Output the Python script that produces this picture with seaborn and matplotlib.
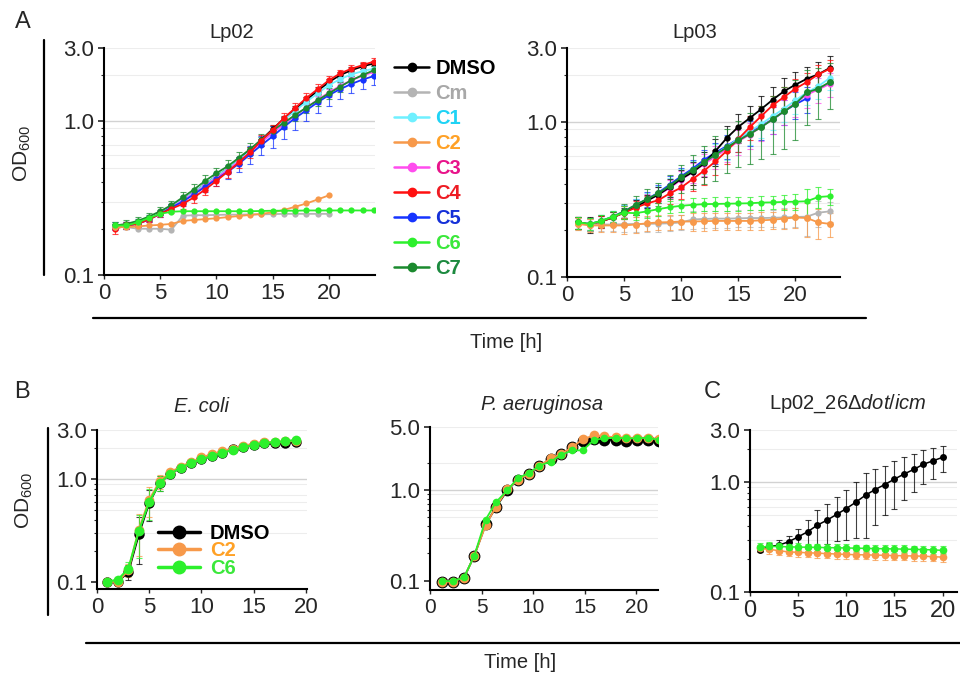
import matplotlib
matplotlib.use("Agg")
import matplotlib.pyplot as plt
import seaborn as sns
from matplotlib.lines import Line2D
from matplotlib.ticker import FixedLocator, NullFormatter

# ---- data: Lp02 (hours 1..24) ----
lp02_t = list(range(1, 25))
lp02_t20 = list(range(1, 21))
lp02_dmso = [0.21, 0.21, 0.22, 0.235, 0.255, 0.28, 0.31, 0.345, 0.39, 0.44, 0.49, 0.56,
             0.65, 0.76, 0.89, 1.04, 1.2, 1.38, 1.58, 1.8, 2.0, 2.15, 2.28, 2.38]
lp02_cm = [0.205, 0.205, 0.2, 0.2, 0.2, 0.197, 0.243, 0.245, 0.245, 0.246, 0.247, 0.247,
           0.248, 0.248, 0.249, 0.25, 0.25, 0.25, 0.25, 0.25]
lp02_c1 = [0.21, 0.21, 0.22, 0.235, 0.255, 0.28, 0.31, 0.345, 0.39, 0.44, 0.49, 0.56,
           0.64, 0.75, 0.87, 1.02, 1.17, 1.34, 1.52, 1.72, 1.88, 2.02, 2.12, 2.2]
lp02_c2 = [0.205, 0.205, 0.207, 0.21, 0.212, 0.215, 0.225, 0.228, 0.231, 0.234, 0.238, 0.242,
           0.246, 0.25, 0.256, 0.265, 0.278, 0.292, 0.31, 0.33]
lp02_c3 = [0.205, 0.21, 0.215, 0.23, 0.25, 0.275, 0.305, 0.34, 0.38, 0.43, 0.48, 0.55,
           0.63, 0.73, 0.84, 0.96, 1.09, 1.23, 1.38, 1.54, 1.7, 1.85, 1.98, 2.1]
lp02_c4 = [0.2, 0.21, 0.215, 0.23, 0.25, 0.27, 0.29, 0.32, 0.36, 0.41, 0.47, 0.54,
           0.63, 0.75, 0.88, 1.05, 1.22, 1.42, 1.62, 1.85, 2.05, 2.2, 2.32, 2.45]
lp02_c5 = [0.205, 0.21, 0.215, 0.23, 0.25, 0.275, 0.3, 0.335, 0.375, 0.42, 0.47, 0.53,
           0.61, 0.7, 0.8, 0.92, 1.05, 1.18, 1.33, 1.48, 1.62, 1.75, 1.87, 1.97]
lp02_c6 = [0.21, 0.21, 0.22, 0.235, 0.25, 0.258, 0.26, 0.26, 0.26, 0.26, 0.26, 0.26,
           0.26, 0.261, 0.262, 0.262, 0.262, 0.263, 0.263, 0.263, 0.263, 0.263, 0.263, 0.263]
lp02_c7 = [0.21, 0.215, 0.225, 0.24, 0.26, 0.285, 0.32, 0.36, 0.41, 0.46, 0.51, 0.58,
           0.66, 0.76, 0.87, 0.98, 1.1, 1.23, 1.37, 1.52, 1.68, 1.85, 2.0, 2.15]
lp02_small_sd = [0.01, 0.01, 0.01, 0.01, 0.01, 0.01, 0.015, 0.015, 0.02, 0.02, 0.025, 0.03,
                 0.03, 0.035, 0.04, 0.05, 0.06, 0.07, 0.08, 0.09, 0.1, 0.1, 0.1, 0.1]
lp02_c4_sd = [0.015, 0.01, 0.01, 0.01, 0.01, 0.015, 0.02, 0.025, 0.03, 0.03, 0.04, 0.04,
              0.05, 0.06, 0.07, 0.08, 0.1, 0.11, 0.12, 0.12, 0.12, 0.12, 0.12, 0.12]
lp02_c5_sd = [0.01, 0.01, 0.01, 0.01, 0.01, 0.015, 0.02, 0.02, 0.03, 0.04, 0.05, 0.06,
              0.08, 0.1, 0.13, 0.15, 0.17, 0.18, 0.2, 0.22, 0.22, 0.23, 0.24, 0.25]
lp02_c7_sd = [0.012, 0.012, 0.012, 0.015, 0.015, 0.02, 0.025, 0.03, 0.035, 0.04, 0.05, 0.05,
              0.06, 0.07, 0.08, 0.09, 0.1, 0.1, 0.12, 0.12, 0.13, 0.13, 0.14, 0.14]

# ---- data: Lp03 (hours 1..23) ----
lp03_t = list(range(1, 24))
lp03_t21 = list(range(1, 22))
lp03_dmso = [0.225, 0.218, 0.228, 0.242, 0.26, 0.283, 0.31, 0.34, 0.38, 0.43, 0.475, 0.54,
             0.65, 0.79, 0.93, 1.06, 1.21, 1.39, 1.58, 1.74, 1.9, 2.03, 2.23]
lp03_cm = [0.22, 0.218, 0.218, 0.218, 0.219, 0.22, 0.22, 0.221, 0.222, 0.225, 0.235, 0.237,
           0.238, 0.238, 0.239, 0.24, 0.24, 0.241, 0.242, 0.244, 0.245, 0.26, 0.265]
lp03_c1 = [0.225, 0.22, 0.23, 0.245, 0.265, 0.29, 0.315, 0.345, 0.385, 0.435, 0.49, 0.55,
           0.62, 0.69, 0.78, 0.87, 0.97, 1.09, 1.22, 1.38, 1.55, 1.7, 1.92]
lp03_c2 = [0.22, 0.215, 0.215, 0.215, 0.215, 0.218, 0.222, 0.225, 0.226, 0.228, 0.228, 0.229,
           0.23, 0.23, 0.23, 0.23, 0.232, 0.234, 0.238, 0.242, 0.24, 0.225, 0.22]
lp03_c3 = [0.225, 0.22, 0.228, 0.243, 0.262, 0.285, 0.31, 0.34, 0.375, 0.425, 0.475, 0.535,
           0.6, 0.67, 0.75, 0.83, 0.93, 1.04, 1.17, 1.33, 1.5, 1.62, 1.76]
lp03_c4 = [0.225, 0.218, 0.228, 0.242, 0.26, 0.28, 0.298, 0.313, 0.346, 0.378, 0.428, 0.485,
           0.557, 0.653, 0.777, 0.925, 1.09, 1.28, 1.45, 1.64, 1.81, 2.03, 2.2]
lp03_c5 = [0.225, 0.22, 0.23, 0.245, 0.265, 0.29, 0.318, 0.35, 0.395, 0.447, 0.5, 0.57,
           0.635, 0.7, 0.78, 0.86, 0.94, 1.04, 1.17, 1.3, 1.42]
lp03_c6 = [0.225, 0.22, 0.23, 0.245, 0.26, 0.258, 0.265, 0.274, 0.282, 0.288, 0.292, 0.295,
           0.296, 0.297, 0.298, 0.299, 0.302, 0.303, 0.305, 0.306, 0.308, 0.328, 0.332]
lp03_c7 = [0.225, 0.219, 0.23, 0.244, 0.265, 0.292, 0.318, 0.346, 0.388, 0.44, 0.49, 0.55,
           0.615, 0.687, 0.76, 0.837, 0.925, 1.04, 1.17, 1.31, 1.55, 1.64, 1.81]
lp03_dmso_sd = [0.02, 0.025, 0.02, 0.02, 0.02, 0.03, 0.03, 0.04, 0.05, 0.06, 0.08, 0.1,
                0.13, 0.15, 0.2, 0.2, 0.25, 0.3, 0.35, 0.35, 0.35, 0.4, 0.45]
lp03_mid_sd = [0.02, 0.02, 0.02, 0.02, 0.025, 0.03, 0.035, 0.04, 0.05, 0.06, 0.07, 0.09,
               0.1, 0.12, 0.14, 0.16, 0.18, 0.2, 0.22, 0.25, 0.27, 0.3, 0.32]
lp03_c7_sd = [0.02, 0.02, 0.02, 0.02, 0.03, 0.04, 0.05, 0.06, 0.07, 0.09, 0.12, 0.15,
              0.2, 0.22, 0.25, 0.3, 0.35, 0.42, 0.5, 0.55, 0.6, 0.6, 0.6]
lp03_flat_sd = [0.02, 0.02, 0.02, 0.02, 0.025, 0.025, 0.025, 0.025, 0.025, 0.025, 0.03, 0.03,
                0.03, 0.03, 0.03, 0.03, 0.03, 0.03, 0.035, 0.035, 0.06, 0.05, 0.04]

# ---- data: E. coli (hours 1..19) ----
ecoli_t = list(range(1, 20))
ecoli_dmso = [0.1, 0.1, 0.125, 0.29, 0.59, 0.92, 1.12, 1.29, 1.43, 1.57, 1.67, 1.8,
              1.94, 2.04, 2.15, 2.22, 2.22, 2.26, 2.28]
ecoli_c2 = [0.1, 0.1, 0.13, 0.32, 0.63, 0.95, 1.16, 1.32, 1.46, 1.62, 1.74, 1.86,
            1.98, 2.1, 2.2, 2.28, 2.3, 2.32, 2.37]
ecoli_c6 = [0.1, 0.105, 0.134, 0.31, 0.6, 0.92, 1.12, 1.29, 1.43, 1.56, 1.67, 1.8,
            1.92, 2.03, 2.15, 2.25, 2.28, 2.33, 2.4]
ecoli_sd = [0.003, 0.005, 0.02, 0.14, 0.2, 0.15, 0.05, 0.04, 0.04, 0.04, 0.05, 0.05,
            0.05, 0.05, 0.05, 0.05, 0.05, 0.05, 0.05]

# ---- data: P. aeruginosa ----
pa_t = [1.2, 2.2, 3.3, 4.3, 5.4, 6.4, 7.5, 8.5, 9.6, 10.6, 11.7, 12.7, 13.8, 14.8,
        15.9, 16.9, 18.0, 19.0, 20.1, 21.1, 22.2]
pa_dmso = [0.097, 0.098, 0.108, 0.19, 0.42, 0.65, 1.0, 1.31, 1.53, 1.86, 2.2, 2.5, 2.99,
           3.5, 3.7, 3.6, 3.6, 3.5, 3.55, 3.55, 3.5]
pa_c2 = [0.097, 0.098, 0.108, 0.19, 0.41, 0.66, 1.02, 1.3, 1.53, 1.86, 2.25, 2.52, 3.0,
         3.65, 4.06, 3.95, 3.85, 3.8, 3.8, 3.8, 3.7]
pa_c6 = [0.099, 0.099, 0.109, 0.19, 0.475, 0.74, 1.0, 1.36, 1.55, 1.87, 2.07, 2.45, 2.76,
         2.76, 3.6, 3.75, 3.8, 3.75, 3.75, 3.8, 3.6]

# ---- data: Lp02_26 dot/icm (hours 1..20) ----
dot_t = list(range(1, 21))
dot_dmso = [0.24, 0.26, 0.267, 0.287, 0.318, 0.355, 0.407, 0.452, 0.51, 0.576, 0.66, 0.764,
            0.86, 0.955, 1.07, 1.19, 1.31, 1.46, 1.57, 1.69]
dot_dmso_sd = [0.01, 0.02, 0.03, 0.04, 0.06, 0.1, 0.15, 0.18, 0.22, 0.28, 0.35, 0.45,
               0.45, 0.45, 0.5, 0.5, 0.5, 0.5, 0.5, 0.45]
dot_c2 = [0.25, 0.245, 0.238, 0.232, 0.23, 0.228, 0.226, 0.224, 0.222, 0.22, 0.219, 0.218,
          0.217, 0.216, 0.215, 0.214, 0.213, 0.212, 0.21, 0.208]
dot_c6 = [0.257, 0.26, 0.26, 0.258, 0.257, 0.256, 0.255, 0.254, 0.253, 0.252, 0.251, 0.25,
          0.249, 0.248, 0.247, 0.246, 0.245, 0.244, 0.242, 0.24]
dot_sd = [0.02, 0.025, 0.02, 0.02, 0.02, 0.02, 0.02, 0.02, 0.02, 0.02, 0.02, 0.02,
          0.02, 0.02, 0.02, 0.02, 0.02, 0.02, 0.02, 0.02]

legend_labels = ["DMSO", "Cm", "C1", "C2", "C3", "C4", "C5", "C6", "C7"]

col = {"DMSO": "#000000", "Cm": "#b4b4b4", "C1": "#6ff0ff", "C2": "#f7994a", "C3": "#ff4dee",
       "C4": "#ff1010", "C5": "#1634ff", "C6": "#2cf02c", "C7": "#1b8a2e"}
txt_col = {"DMSO": "#000000", "Cm": "#a8a8a8", "C1": "#1fd3f5", "C2": "#ffa126", "C3": "#e8138a",
           "C4": "#ee1c24", "C5": "#1530d8", "C6": "#3be83b", "C7": "#1c8a3f"}

sns.set_style("ticks")
plt.rcParams['font.family'] = ['Liberation Sans', 'DejaVu Sans']
plt.rcParams['mathtext.fontset'] = 'custom'
plt.rcParams['mathtext.rm'] = 'Liberation Sans'
plt.rcParams['mathtext.it'] = 'Liberation Sans:italic'
plt.rcParams['mathtext.default'] = 'regular'

W, H = 960, 676
fig = plt.figure(figsize=(9.6, 6.76), dpi=100)


def px_axes(left, top, right, bottom):
    return fig.add_axes([left / W, 1 - bottom / H, (right - left) / W, (bottom - top) / H])


def ftext(x, y, s, **kw):
    fig.text(x / W, 1 - y / H, s, ha='center', va='center', **kw)


def series(ax, t, y, c, sd=None, ms=4.5, lw=1.3, z=3):
    if sd is not None:
        ax.errorbar(t, y, yerr=sd, fmt='none', ecolor=c, elinewidth=0.8, capsize=2,
                    capthick=0.8, alpha=0.75, zorder=z - 0.5)
    sns.lineplot(x=t, y=y, ax=ax, color=c, marker='o', markersize=ms, markeredgewidth=0,
                 linewidth=lw, legend=False, zorder=z)


def style(ax, ylim, xlim, top_tick, xsize=16, ysize=16):
    ax.set_yscale('log')
    ax.set_ylim(ylim)
    ax.set_xlim(xlim)
    majors = [0.1, 1.0, top_tick]
    ax.yaxis.set_major_locator(FixedLocator(majors))
    ax.set_yticklabels([f"{v:.1f}" for v in majors])
    ax.yaxis.set_minor_locator(FixedLocator([0.2, 0.3, 0.4, 0.5, 0.6, 0.7, 0.8, 0.9, 2.0]))
    ax.yaxis.set_minor_formatter(NullFormatter())
    ax.set_xticks([0, 5, 10, 15, 20])
    ax.tick_params(axis='x', length=3, width=1.0, labelsize=xsize, pad=3)
    ax.tick_params(axis='y', which='major', length=4, width=1.2, labelsize=ysize, pad=3)
    ax.tick_params(axis='y', which='minor', length=2.5, width=0.8)
    for g in [0.3, 0.5, 0.6, 0.7, 0.9, 2.0, top_tick]:
        ax.axhline(g, color='#ededed', lw=0.8, zorder=0)
    ax.axhline(1.0, color='#d2d2d2', lw=1.0, zorder=0)
    sns.despine(ax=ax)
    for s in ['left', 'bottom']:
        ax.spines[s].set_linewidth(1.5)
        ax.spines[s].set_color('black')
    ax.set_xlabel('')
    ax.set_ylabel('')


# ---- A: Lp02 ----
ax1 = px_axes(104, 48, 375, 275)
series(ax1, lp02_t, lp02_dmso, col["DMSO"], lp02_small_sd)
series(ax1, lp02_t, lp02_c1, col["C1"], lp02_small_sd)
series(ax1, lp02_t, lp02_c3, col["C3"], lp02_small_sd)
series(ax1, lp02_t, lp02_c5, col["C5"], lp02_c5_sd)
series(ax1, lp02_t, lp02_c7, col["C7"], lp02_c7_sd)
series(ax1, lp02_t, lp02_c4, col["C4"], lp02_c4_sd)
series(ax1, lp02_t20, lp02_cm, col["Cm"])
series(ax1, lp02_t20, lp02_c2, col["C2"])
series(ax1, lp02_t, lp02_c6, col["C6"])
style(ax1, (0.1, 3.0), (0, 24.1), 3.0)
ftext(232, 32, "Lp02", fontsize=14.5)

# ---- A: Lp03 ----
ax2 = px_axes(567, 48, 840, 277)
series(ax2, lp03_t21, lp03_c5, col["C5"], lp03_mid_sd[:21])
series(ax2, lp03_t, lp03_c3, col["C3"], lp03_mid_sd)
series(ax2, lp03_t, lp03_c1, col["C1"], lp03_mid_sd)
series(ax2, lp03_t, lp03_dmso, col["DMSO"], lp03_dmso_sd)
series(ax2, lp03_t, lp03_c4, col["C4"], lp03_mid_sd)
series(ax2, lp03_t, lp03_c7, col["C7"], lp03_c7_sd, ms=5)
series(ax2, lp03_t, lp03_cm, col["Cm"], lp03_flat_sd)
series(ax2, lp03_t, lp03_c2, col["C2"], lp03_flat_sd, ms=5)
series(ax2, lp03_t, lp03_c6, col["C6"], lp03_flat_sd)
style(ax2, (0.1, 3.0), (0, 23.9), 3.0)
ftext(695, 32, "Lp03", fontsize=14.5)

handles = [Line2D([], [], color=col[k], marker='o', ms=6, lw=1.8) for k in legend_labels]
leg = fig.legend(handles, legend_labels, loc='upper left', bbox_to_anchor=(386 / W, 1 - 51 / H),
                 frameon=False, prop={'weight': 'bold', 'size': 14.5}, handlelength=1.75,
                 handletextpad=0.3, labelspacing=0.3, borderaxespad=0)
for txt, k in zip(leg.get_texts(), legend_labels):
    txt.set_color(txt_col[k])

# ---- B: E. coli ----
ax3 = px_axes(97, 430, 307, 589)
series(ax3, ecoli_t, ecoli_dmso, col["DMSO"], ecoli_sd, ms=7.5, lw=1.5)
series(ax3, ecoli_t, ecoli_c2, col["C2"], ecoli_sd, ms=7, lw=1.5)
series(ax3, ecoli_t, ecoli_c6, col["C6"], ecoli_sd, ms=7, lw=1.5)
style(ax3, (0.085, 3.0), (0, 20.1), 3.0)
ftext(202, 406, "E. coli", fontsize=14.5, style='italic')
hb = [Line2D([], [], color=col[k], marker='o', ms=9, lw=2.5) for k in ["DMSO", "C2", "C6"]]
legb = ax3.legend(hb, ["DMSO", "C2", "C6"], loc='upper left', bbox_to_anchor=(0.25, 0.46),
                  frameon=False, prop={'weight': 'bold', 'size': 14.5}, handlelength=2.1,
                  handletextpad=0.5, labelspacing=-0.08, borderaxespad=0)
for txt, k in zip(legb.get_texts(), ["DMSO", "C2", "C6"]):
    txt.set_color(txt_col[k])

# ---- B: P. aeruginosa ----
ax4 = px_axes(430, 427, 658, 590)
series(ax4, pa_t, pa_dmso, col["DMSO"], ms=8.5, lw=1.3)
series(ax4, pa_t, pa_c2, col["C2"], ms=7, lw=1.3)
series(ax4, pa_t, pa_c6, col["C6"], ms=5.5, lw=1.3)
style(ax4, (0.079, 5.0), (0, 22.1), 5.0, xsize=15)
ftext(542, 404, "P. aeruginosa", fontsize=14.5, style='italic')

# ---- C: dot/icm ----
ax5 = px_axes(750, 430, 957, 592)
series(ax5, dot_t, dot_dmso, "#000000", dot_dmso_sd, ms=5, lw=1.1)
series(ax5, dot_t, dot_c2, col["C2"], dot_sd, ms=5.5, lw=1.1)
series(ax5, dot_t, dot_c6, col["C6"], dot_sd, ms=5.5, lw=1.1)
style(ax5, (0.1, 3.0), (0, 21.5), 3.0, xsize=17)
ftext(848, 404, "Lp02_26Δ$\\mathit{dot/icm}$", fontsize=14.5)

# ---- figure-level decorations ----
def fig_line(x0, y0, x1, y1):
    fig.add_artist(Line2D([x0 / W, x1 / W], [1 - y0 / H, 1 - y1 / H],
                          transform=fig.transFigure, color='black', lw=1.6))

fig_line(44, 40, 44, 275)
fig_line(48, 428, 48, 615)
fig_line(93, 318, 866, 318)
fig_line(86, 643, 960, 643)

ftext(23, 22, "A", fontsize=17)
ftext(22, 392, "B", fontsize=17)
ftext(712, 392, "C", fontsize=17)
ftext(22, 153, "OD$_{600}$", fontsize=15, rotation=90)
ftext(24, 500, "OD$_{600}$", fontsize=15, rotation=90)
ftext(506, 342, "Time [h]", fontsize=14.5)
ftext(520, 663, "Time [h]", fontsize=14.5)

fig.savefig("out.png", dpi=100)
